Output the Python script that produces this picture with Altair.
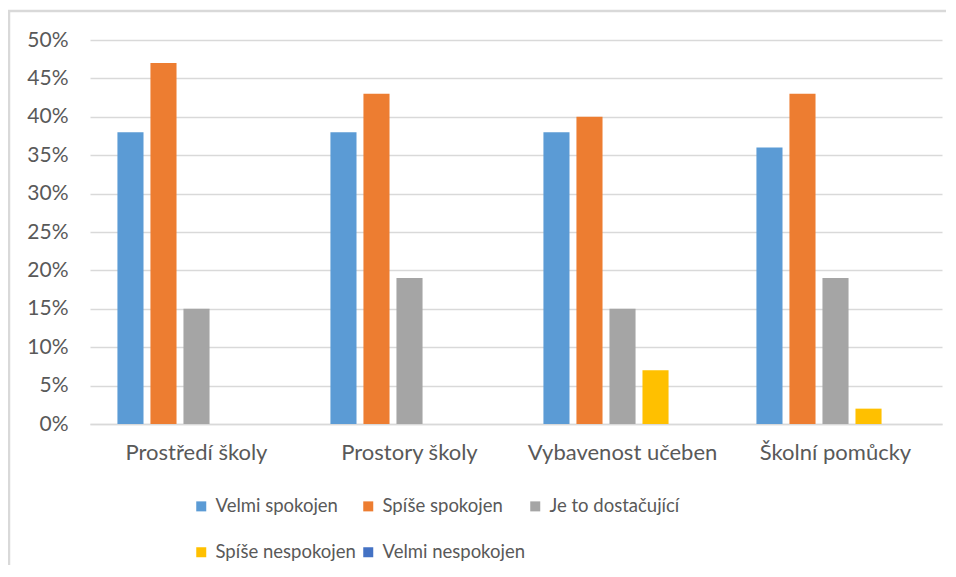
import altair as alt
import pandas as pd

categories = ["Prostředí školy", "Prostory školy", "Vybavenost učeben", "Školní pomůcky"]
series = ["Velmi spokojen", "Spíše spokojen", "Je to dostačující", "Spíše nespokojen", "Velmi nespokojen"]
velmi_spokojen = [0.38, 0.38, 0.38, 0.36]
spise_spokojen = [0.47, 0.43, 0.40, 0.43]
dostacujici = [0.15, 0.19, 0.15, 0.19]
spise_nespokojen = [0.0, 0.0, 0.07, 0.02]
velmi_nespokojen = [0.0, 0.0, 0.0, 0.0]
colors = ["#5B9BD5", "#ED7D31", "#A5A5A5", "#FFC000", "#4472C4"]
y_ticks = [0, 0.05, 0.10, 0.15, 0.20, 0.25, 0.30, 0.35, 0.40, 0.45, 0.50]

all_vals = [velmi_spokojen, spise_spokojen, dostacujici, spise_nespokojen, velmi_nespokojen]
rows = []
for s, vals in zip(series, all_vals):
    for c, v in zip(categories, vals):
        rows.append({"kategorie": c, "serie": s, "hodnota": v})
df = pd.DataFrame(rows)

FONT = "Lato"
TXT = "#595959"

bars = alt.Chart(df).mark_bar().encode(
    x=alt.X("kategorie:N", sort=categories, title=None,
            scale=alt.Scale(paddingInner=0.225, paddingOuter=0.1125),
            axis=alt.Axis(labelAngle=0, ticks=False, domainColor="#D9D9D9", domainWidth=1.5,
                          labelPadding=18, labelFontSize=22, labelColor=TXT, labelFont=FONT,
                          labelLimit=0, grid=False)),
    xOffset=alt.XOffset("serie:N", sort=series,
                        scale=alt.Scale(domain=series, paddingInner=0.21, paddingOuter=0.105)),
    y=alt.Y("hodnota:Q", title=None,
            scale=alt.Scale(domain=[0, 0.5], nice=False),
            axis=alt.Axis(values=y_ticks, format=".0%", ticks=False, domain=False,
                          gridColor="#D9D9D9", gridWidth=1.5, labelPadding=22,
                          labelFontSize=21, labelColor=TXT, labelFont=FONT)),
    color=alt.Color("serie:N", sort=series,
                    scale=alt.Scale(domain=series, range=colors),
                    legend=alt.Legend(title=None, orient="none", legendX=102, legendY=457,
                                      direction="horizontal", columns=3, columnPadding=-13,
                                      gridAlign="all",
                                      rowPadding=27, symbolType="square", symbolSize=100,
                                      symbolStrokeWidth=0, labelOffset=5, labelFontSize=18.5,
                                      labelColor=TXT, labelFont=FONT, labelLimit=0, padding=0)),
)

border = alt.Chart(alt.Data(values=[{}])).mark_rect(
    fill=None, stroke="#D9D9D9", strokeWidth=2.5
).encode(
    x=alt.value(-81), x2=alt.value(1000), y=alt.value(-29), y2=alt.value(1000)
)

chart = alt.layer(border, bars).properties(
    width=852, height=384,
    autosize=alt.AutoSizeParams(type="none"),
    padding={"left": 82, "top": 32, "right": 4, "bottom": 141},
).configure_view(stroke=None)

chart.save("out.html", embed_options={"renderer": "svg", "actions": False})
